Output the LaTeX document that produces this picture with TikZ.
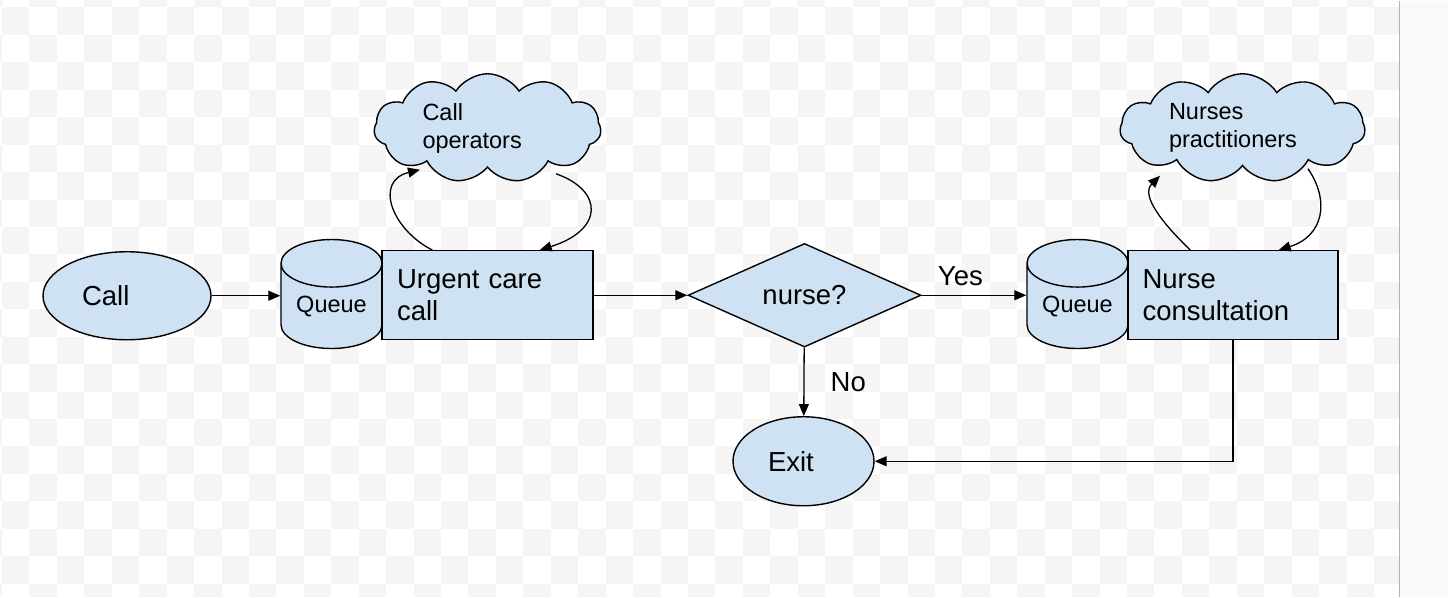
\documentclass[tikz,border=0pt]{standalone}
\usepackage{fontspec}
\setmainfont{Liberation Sans}
\usepackage{tikz}
\usetikzlibrary{shapes.geometric, shapes.symbols, arrows.meta}

\definecolor{boxblue}{HTML}{CFE2F3}
\definecolor{checker}{HTML}{F5F5F5}
\definecolor{panel}{HTML}{F8F9FA}
\definecolor{panelline}{HTML}{B4B4B4}

\begin{document}
\begin{tikzpicture}[
            x=1pt, y=-1pt, % one unit is one pixel, y goes down
            every node/.style={draw, line width=1.4pt, fill=boxblue, inner sep=0pt,
                font=\fontsize{27.5pt}{32pt}\selectfont}, % blue boxes
            term/.style={ellipse, minimum width=168pt, minimum height=88pt, align=left}, % start and end
            task/.style={rectangle, minimum width=211pt, minimum height=89pt, text width=181pt, align=left},
            queue/.style={cylinder, shape border rotate=90, aspect=0.674, minimum width=101pt,
                minimum height=109pt, font=\fontsize{23.5pt}{28pt}\selectfont},
            decision/.style={diamond, minimum width=233pt, minimum height=97pt},
            pool/.style={cloud, cloud puffs=11, cloud puff arc=115, cloud ignores aspect, minimum width=227pt,
                minimum height=109pt, align=left, font=\fontsize{23.5pt}{28pt}\selectfont},
            label/.style={draw=none, fill=none, inner sep=9pt}, % plain text on edges
            arr/.style={line width=1.3pt, -{Triangle[length=12pt, width=10pt]}}
            ]

        % checkered backdrop and side panel
        \begin{scope}
            \clip (0,0) rectangle (1399.5,596);
            \foreach \r in {-1,...,21} {
                \pgfmathtruncatemacro\cs{mod(\r+2,2)-2}
                \pgfmathtruncatemacro\cn{\cs+2}
                \foreach \c in {\cs,\cn,...,50}
                    \fill[checker] ({2+27.44*\c},{6.7+27.44*\r}) rectangle +(27.44,27.44);
            }
        \end{scope}
        \fill[panel] (1399.5,0) rectangle (1448,596);
        \draw[panelline, line width=1.5pt] (1399.5,0) -- (1399.5,596);
        \useasboundingbox (0,0) rectangle (1448,596);

        % main flow
        \node[term, text width=90pt] (call) at (127,295) {Call};
        \node[queue] (q1) at (331.5,305.5) {\raisebox{3pt}{Queue}};
        \node[task] (urgent) at (487.5,294.5) {Urgent care\\call};
        \node[decision] (dec) at (804.5,294.5) {nurse?};
        \node[queue] (q2) at (1077.5,305.5) {\raisebox{3pt}{Queue}};
        \node[task, minimum width=210pt] (nurse) at (1233,294.5) {Nurse\\consultation};
        \node[term, minimum width=141pt, minimum height=89pt, text width=71pt] (exit) at (803.5,460.5) {Exit};

        % staff pools
        \node[pool, text width=130pt] (ops) at (487.5,127.5) {Call\\operators};
        \node[pool, text width=147pt, minimum width=245pt] (np) at (1242.5,127.5) {Nurses\\practitioners};

        \coordinate (opsL) at (420,169);
        \coordinate (opsR) at (556,173);
        \coordinate (npL) at (1160,175);
        \coordinate (npR) at (1308,168);

        \draw[arr] (call.east) -- (call.east -| q1.west);
        \draw[arr] (urgent) -- (dec);
        \draw[arr] (dec.east) -- node[label, above, pos=.37] {Yes} (dec.east -| q2.west);
        \draw[arr] (dec) -- node[label, right, xshift=17pt] {No} (exit);
        \draw[arr] (nurse) |- (exit);

        % back and forth with the pools
        \draw[arr] ([xshift=51pt]urgent.north west) .. controls +(-41,-21) and +(-46,11) .. (opsL);
        \draw[arr] (opsR) .. controls +(48,17) and +(64,-20) .. ([xshift=-54pt]urgent.north east);
        \draw[arr] ([xshift=63pt]nurse.north west) .. controls +(-26,-25) and +(-20,20) .. (npL);
        \draw[arr] (npR) .. controls +(22,32) and +(45,-14) .. ([xshift=-60pt]nurse.north east);

\end{tikzpicture}
\end{document}
